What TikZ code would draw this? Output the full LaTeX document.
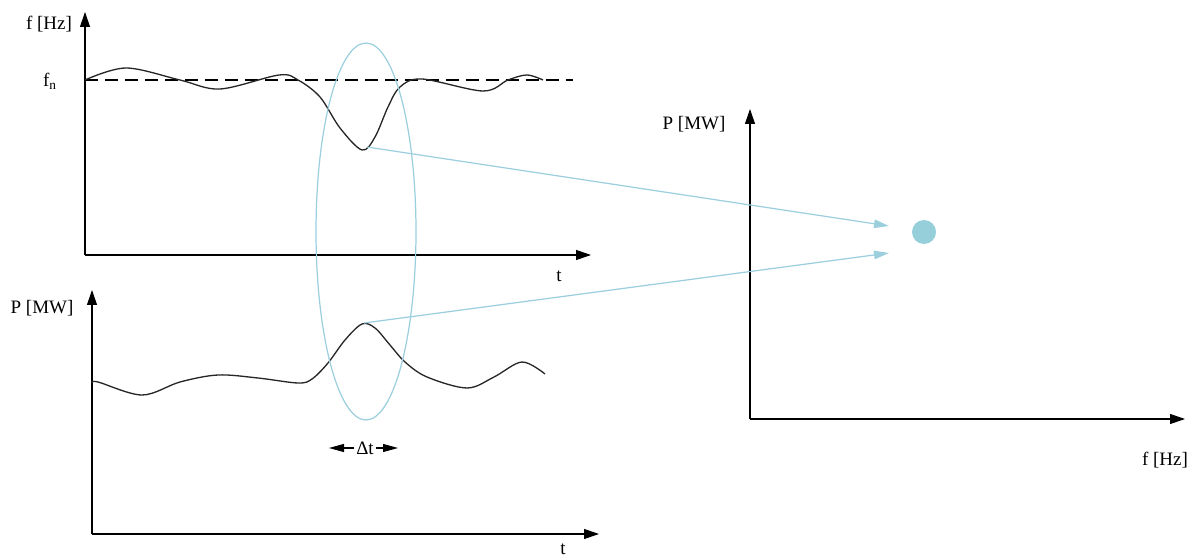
\documentclass[tikz,border=0pt]{standalone}
\usepackage{fontspec}
\setmainfont{Liberation Serif}
\usetikzlibrary{arrows.meta}
\definecolor{linkblue}{RGB}{155,207,222}
\definecolor{dotblue}{RGB}{150,206,218}

\begin{document}
\begin{tikzpicture}[x=0.02cm, y=-0.02cm,
    font=\fontsize{10.8}{13}\selectfont,
    axis/.style={-{Triangle[length=0.3cm,width=0.2cm]}, line width=0.6pt},
    curve/.style={line width=0.75pt, black!85},
    link/.style={-{Triangle[length=0.3cm,width=0.17cm]}, linkblue, line width=0.7pt},
    dtarrow/.style={-{Triangle[length=0.3cm,width=0.16cm]}, line width=0.6pt},
    lbl/.style={inner sep=0pt}]
  \useasboundingbox (0,0) rectangle (1197,557);

  % frequency over time
  \coordinate (fO) at (85,255);
  \coordinate (fY) at (85,12);
  \coordinate (fX) at (591,255);
  \coordinate (fnStart) at (85,80);
  \coordinate (fnEnd) at (573,80);
  \draw[axis] (fO) -- (fY);
  \draw[axis] (fO) -- (fX);
  \node[lbl] (fLabel) at (49,24) {f [Hz]};
  \node[lbl] (fnLabel) at (50,81) {f\textsubscript{n}};
  \node[lbl] (tTop) at (559,276) {t};
  \draw[dash pattern=on 7.4pt off 4pt, line width=0.6pt] (fnStart) -- (fnEnd);
  \draw[curve] plot[smooth, tension=0.55] coordinates {(85,80) (126,68) (180,80) (220,89) (279,75)
    (298,80) (320,97) (340,128) (362,150) (375,137) (388,107) (400,87) (422,79)
    (483,91) (508,80) (527,75) (543,80)};
  \coordinate (fDip) at (367,147);

  % power over time
  \coordinate (pO) at (92,534);
  \coordinate (pY) at (92,290);
  \coordinate (pX) at (599,534);
  \draw[axis] (pO) -- (pY);
  \draw[axis] (pO) -- (pX);
  \node[lbl] (pLabel) at (42,308) {P [MW]};
  \node[lbl] (tBottom) at (563,549) {t};
  \draw[curve] plot[smooth, tension=0.55] coordinates {(92,383) (98,382) (142,395) (180,382)
    (218,375) (258,378) (298,383) (312,379) (328,363) (345,340) (362,324) (375,328)
    (390,345) (405,362) (427,377) (467,388) (494,377) (522,362) (545,374)};
  \coordinate (pPeak) at (364,323);

  % time window
  \draw[linkblue, line width=0.7pt] (366,231.5) ellipse [x radius=1cm, y radius=3.77cm];
  \node[lbl] (dt) at (365,448) {Δt};
  \coordinate (dtL) at (329,448);
  \coordinate (dtR) at (398,448);
  \draw[dtarrow] ([xshift=-1pt]dt.west) -- (dtL);
  \draw[dtarrow] ([xshift=1pt]dt.east) -- (dtR);

  % power over frequency
  \coordinate (qO) at (750,419);
  \coordinate (qY) at (750,109);
  \coordinate (qX) at (1185,419);
  \draw[axis] (qO) -- (qY);
  \draw[axis] (qO) -- (qX);
  \node[lbl] (qLabel) at (694,124) {P [MW]};
  \node[lbl] (fRight) at (1165,460) {f [Hz]};
  \node[circle, fill=dotblue, minimum size=0.48cm, inner sep=0pt] (dot) at (924,232) {};
  \coordinate (tipA) at (889,226);
  \coordinate (tipB) at (889,253);
  \draw[link] (fDip) -- (tipA);
  \draw[link] (pPeak) -- (tipB);
\end{tikzpicture}
\end{document}
